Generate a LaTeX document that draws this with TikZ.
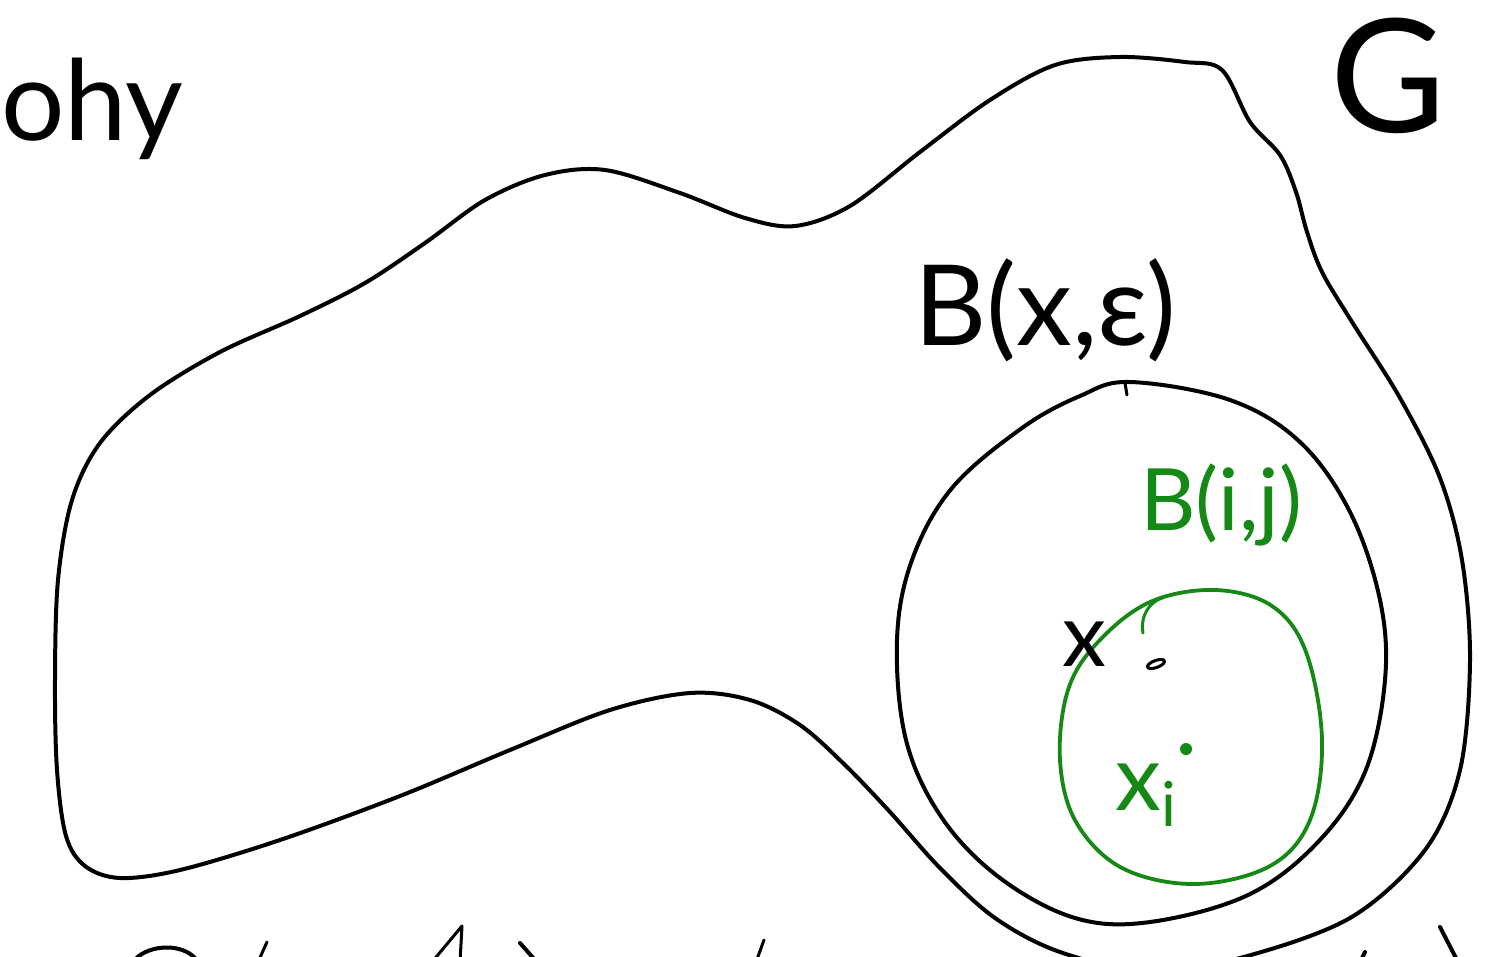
\documentclass[tikz,border=0pt]{standalone}
\usepackage{fontspec}
\setmainfont{Lato}
\usetikzlibrary{shapes.geometric}
\definecolor{pen}{RGB}{22,136,22}
\begin{document}
\begin{tikzpicture}[x=1pt,y=-1pt,
  ink/.style={line width=4pt, line cap=round, line join=round},
  gink/.style={ink, draw=pen, line width=3.8pt},
  lbl/.style={inner sep=0pt, anchor=base west},
  glbl/.style={lbl, text=pen}]
\useasboundingbox (0,0) rectangle (1491,956);
\clip (0,0) rectangle (1491,956);

% outer region G
\draw[ink] plot[smooth cycle, tension=0.55] coordinates {
 (1222,70) (1250,122) (1280,155) (1296,192) (1307,232) (1322,272) (1352,322)
 (1400,398) (1440,478) (1462,560) (1470,660) (1460,770) (1425,850) (1350,918)
 (1240,958) (1150,972) (1060,952) (995,918) (940,868) (890,812) (845,765)
 (800,725) (750,700) (690,693) (610,710) (510,750) (400,796) (280,840)
 (180,870) (120,878) (85,866) (66,836) (57,770) (55,680) (58,580) (72,500)
 (100,443) (150,395) (220,352) (300,316) (365,283) (425,243) (485,200)
 (545,175) (605,170) (680,193) (745,218) (795,226) (850,206) (920,152)
 (990,100) (1055,65) (1120,57) (1185,62)};

% ball B(x,eps)
\draw[ink] plot[smooth cycle, tension=0.6] coordinates {
 (1130,382) (1230,400) (1300,442) (1350,512) (1380,600) (1385,680)
 (1365,772) (1318,842) (1248,895) (1150,922) (1075,918) (1000,878)
 (942,818) (906,740) (897,640) (912,560) (952,488) (1022,428) (1080,396)};
\draw[ink, line width=3pt] (1125,383) -- (1127,395);

% green ball B(i,j)
\draw[gink] plot[smooth cycle, tension=0.6] coordinates {
 (1215,590) (1272,606) (1306,652) (1322,740) (1310,820) (1270,866)
 (1195,884) (1122,868) (1076,822) (1060,760) (1068,690) (1098,642) (1150,602)};
\draw[gink, line width=3pt] (1143,633) .. controls (1140,615) and (1150,602) .. (1162,598);

% labels
\node[lbl, font=\fontsize{112}{112}\selectfont] (Bx) at (914,345) {B(x,ε)};
\node[glbl, font=\fontsize{86}{86}\selectfont] (Bij) at (1140,530) {B(i,j)};
\node[lbl, font=\fontsize{88}{88}\selectfont] (x) at (1062,666) {x};
\node[draw, ink, ellipse, minimum width=18pt, minimum height=7pt, inner sep=0pt, rotate=20, line width=3pt] (xdot) at (1156,664) {};
\node[glbl, font=\fontsize{92}{92}\selectfont] (xi) at (1115,810) {x\raisebox{-16pt}{\fontsize{62}{62}\selectfont i}};
\node[circle, fill=pen, minimum size=12pt, inner sep=0pt] (xidot) at (1186,749) {};
\node[lbl, font=\fontsize{158}{158}\selectfont] (G) at (1330,132) {G};
\node[lbl, font=\fontsize{112}{112}\selectfont] (ohy) at (1,140) {ohy};

% cut-off strokes at the bottom edge
\draw[ink] (133,962) .. controls (145,945) and (180,942) .. (195,958);
\draw[ink, line width=3pt] (267,942) -- (258,962);
\draw[ink, line width=3pt] (432,962) -- (462,926) -- (460,962);
\draw[ink] (520,943) -- (535,960);
\draw[ink, line width=3pt] (764,940) -- (756,962);
\draw[ink] (1440,927) -- (1458,962);
\draw[ink] (1365,952) -- (1360,962);
\end{tikzpicture}
\end{document}
